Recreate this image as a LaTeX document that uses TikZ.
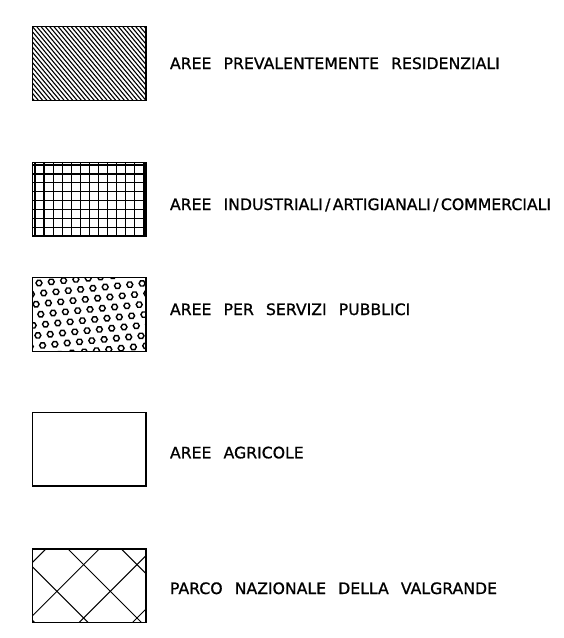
\documentclass[tikz,border=0pt]{standalone}
\usepackage{fontspec}
\setmainfont[FakeBold=0.9]{DejaVu Sans}
\newcommand\legsp{\hspace{0.77em}}
\newcommand\legsl{\hspace{0.15em}/\hspace{0.15em}}
\tikzset{
  legbox/.style={draw=black, line width=1.2pt, minimum width=113.3pt, inner sep=0pt, outer sep=0pt},
  legtext/.style={anchor=base west, inner sep=0pt, outer sep=0pt, font=\fontsize{15.7}{18}\selectfont},
  hatch/.style={line width=1.1pt, black},
  gridln/.style={line width=1.2pt, black},
  hexring/.style={line width=1.4pt, black},
  diagln/.style={line width=1pt, black}
}
\begin{document}
\begin{tikzpicture}[x=1pt,y=-1pt]
\useasboundingbox (0,0) rectangle (564,638);
\fill[white] (0,0) rectangle (564,638);

% ---- box 1: diagonal hatch
\begin{scope}
  \clip (32.7,26.7) rectangle (146,100.7);
  \foreach \i in {0,...,42} {
    \draw[hatch] (\i*4.3-32,26.7) -- ++(62.1,74);
  }
\end{scope}
\node[legbox, minimum height=74pt] (b1) at (89.35,63.7) {};

% ---- box 2: square grid
\begin{scope}
  \clip (32.7,162.3) rectangle (146,236);
  \foreach \i in {0,...,12} {
    \draw[gridln] (35+\i*9.08,162.3) -- (35+\i*9.08,236);
  }
  \foreach \j in {0,...,7} {
    \draw[gridln] (32.7,165+\j*8.9) -- (146,165+\j*8.9);
  }
\end{scope}
\node[legbox, minimum height=73.7pt] (b2) at (89.35,199.15) {};

% ---- box 3: hexagon dots
\begin{scope}
  \clip (32.7,277.3) rectangle (146,351.7);
  \foreach \i in {-4,...,10} {
    \foreach \j in {-1,...,8} {
      \pgfmathsetmacro\cx{39+12.3*\i+4.7*\j}
      \pgfmathsetmacro\cy{283-1.2*\i+10*\j}
      \draw[hexring] (\cx,\cy) +(0:3) -- +(60:3) -- +(120:3) -- +(180:3) -- +(240:3) -- +(300:3) -- cycle;
    }
  }
\end{scope}
\node[legbox, minimum height=74.4pt] (b3) at (89.35,314.5) {};

% ---- box 4: empty
\node[legbox, minimum height=73.7pt] (b4) at (89.35,449.2) {};

% ---- box 5: diamond lattice
\begin{scope}
  \clip (32.7,549) rectangle (146,622.7);
  \foreach \k in {0,...,3} {
    \pgfmathsetmacro\c{594.8+53.4*\k}
    \draw[diagln] (\c-549,549) -- (\c-622.7,622.7);
  }
  \foreach \k in {-2,...,1} {
    \pgfmathsetmacro\d{-481+53.4*\k}
    \draw[diagln] (\d+549,549) -- (\d+622.7,622.7);
  }
\end{scope}
\node[legbox, minimum height=73.7pt] (b5) at (89.35,585.85) {};

% ---- labels
\node[legtext] (t1) at (170,69) {AREE\legsp PREVALENTEMENTE\legsp RESIDENZIALI};
\node[legtext] (t2) at (170,210) {AREE\legsp INDUSTRIALI\legsl ARTIGIANALI\legsl COMMERCIALI};
\node[legtext] (t3) at (170,315) {AREE\legsp PER\legsp SERVIZI\legsp PUBBLICI};
\node[legtext] (t4) at (170,458.3) {AREE\legsp AGRICOLE};
\node[legtext] (t5) at (170,594) {PARCO\legsp NAZIONALE\legsp DELLA\legsp VALGRANDE};
\end{tikzpicture}
\end{document}
